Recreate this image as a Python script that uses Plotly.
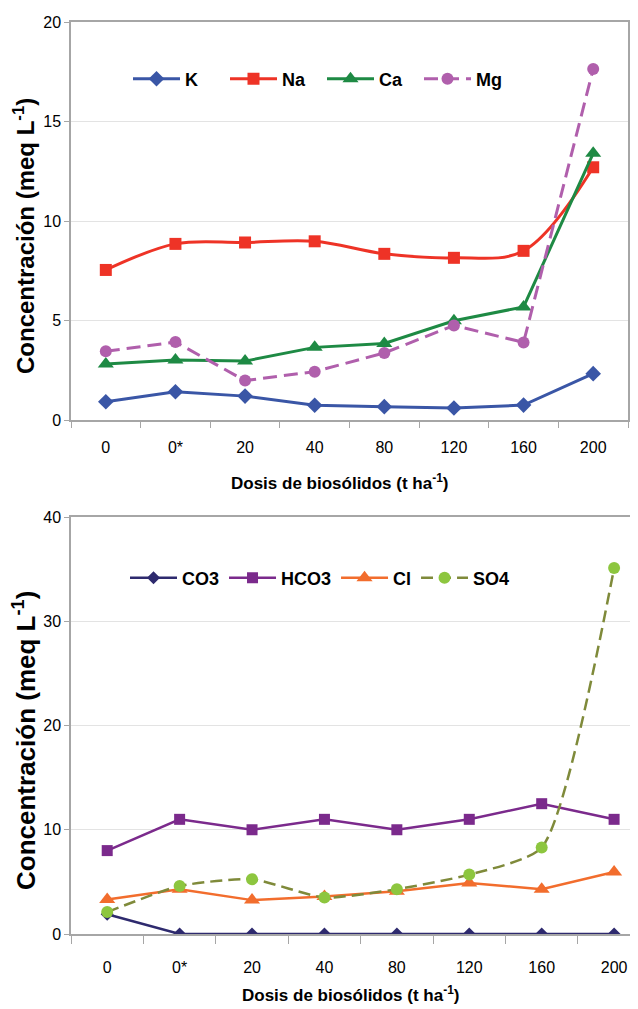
import plotly.graph_objects as go

# ---------------- data ----------------
cats = ["0", "0*", "20", "40", "80", "120", "160", "200"]

K = [0.92, 1.42, 1.20, 0.74, 0.67, 0.60, 0.75, 2.33]
Na = [7.54, 8.85, 8.92, 8.98, 8.35, 8.15, 8.50, 12.70]
Ca = [2.81, 3.02, 2.96, 3.65, 3.85, 4.99, 5.68, 13.40]
Mg = [3.45, 3.92, 1.98, 2.43, 3.37, 4.75, 3.90, 17.64]

CO3 = [1.90, 0, 0, 0, 0, 0, 0, 0]
HCO3 = [8.0, 11.0, 10.0, 11.0, 10.0, 11.0, 12.5, 11.0]
Cl = [3.30, 4.30, 3.25, 3.60, 4.10, 4.90, 4.30, 5.95]
SO4 = [2.10, 4.60, 5.25, 3.50, 4.30, 5.70, 8.30, 35.10]

top_yticks = [0, 5, 10, 15, 20]
bot_yticks = [0, 10, 20, 30, 40]

# ---------------- layout constants ----------------
# the page body has an 8px margin, so the figure is drawn 8px in from the
# top-left corner of the window
OFF = 8
W, H = 638 - OFF, 1009 - OFF
ML, MR, MT, MB = 71 - OFF, 0, 22 - OFF, 75
PW, PH = W - ML - MR, H - MT - MB


def px_x(p):
    return (p - 71) / PW


def px_y(p):
    return (934 - p) / PH


FONT = "Liberation Sans, Arial"
AXC = "#a6a6a6"
GRID = "#e3e3e3"

fig = go.Figure()


def add(name, y, color, symbol, size, xa, ya, legend, dash="solid",
        shape="linear", mcolor=None, width=3, smoothing=1.0):
    fig.add_trace(go.Scatter(
        x=cats, y=y, name=name, mode="lines+markers",
        xaxis=xa, yaxis=ya, legend=legend,
        line=dict(color=color, width=width, dash=dash, shape=shape,
                  smoothing=smoothing),
        marker=dict(symbol=symbol, size=size, color=mcolor or color,
                    line=dict(width=0)),
    ))


add("K", K, "#3a56a6", "diamond", 12, "x", "y", "legend")
add("Na", Na, "#ee3326", "square", 12, "x", "y", "legend", shape="spline")
add("Ca", Ca, "#1e8a44", "triangle-up", 14, "x", "y", "legend")
add("Mg", Mg, "#b05fac", "circle", 12, "x", "y", "legend", dash="14px,7px")

add("CO3", CO3, "#2e2a6e", "diamond", 10, "x2", "y2", "legend2", width=2.5)
add("HCO3", HCO3, "#7b2a8c", "square", 11, "x2", "y2", "legend2", width=2.5)
add("Cl", Cl, "#f26d2d", "triangle-up", 14, "x2", "y2", "legend2", width=2.5)
add("SO4", SO4, "#7f8a3a", "circle", 12, "x2", "y2", "legend2",
    dash="12px,6px", shape="spline", mcolor="#8dc63f", width=2.5,
    smoothing=0.6)

tickfont = dict(family=FONT, size=16, color="#000000")

xcommon = dict(type="category", categoryorder="array", categoryarray=cats,
               showgrid=False, showline=True, linecolor=AXC, linewidth=1.5,
               ticks="outside", tickson="boundaries", tickcolor=AXC,
               tickfont=tickfont, zeroline=False)
ycommon = dict(showgrid=True, gridcolor=GRID, gridwidth=1, showline=True,
               linecolor=AXC, linewidth=1.5, ticks="outside", ticklen=5,
               tickcolor=AXC, tickfont=tickfont, zeroline=False)

legfont = dict(family=FONT, size=18, color="#000000", weight="bold")

fig.update_layout(
    width=W, height=H,
    margin=dict(l=ML, r=MR, t=MT, b=MB),
    paper_bgcolor="white", plot_bgcolor="white",
    showlegend=True,
    xaxis=dict(xcommon, domain=[0, px_x(628)], anchor="y", range=[-0.5, 7.5],
               mirror=True, ticklen=6, ticklabelstandoff=12),
    yaxis=dict(ycommon, domain=[px_y(420), 1], anchor="x", range=[0, 20],
               tickvals=top_yticks, mirror=True),
    xaxis2=dict(xcommon, domain=[0, 1], anchor="y2", range=[-0.5, 7.33],
                mirror=True, ticklen=8, ticklabelstandoff=18),
    yaxis2=dict(ycommon, domain=[0, px_y(517)], anchor="x2", range=[0, 40],
                tickvals=bot_yticks),
    legend=dict(orientation="h", x=px_x(128), y=px_y(79), xanchor="left",
                yanchor="middle", bgcolor="rgba(0,0,0,0)", itemwidth=47,
                entrywidth=35, entrywidthmode="pixels",
                font=legfont, traceorder="normal"),
    legend2=dict(orientation="h", x=px_x(125), y=px_y(578), xanchor="left",
                 yanchor="middle", bgcolor="rgba(0,0,0,0)", itemwidth=47,
                 font=legfont, traceorder="normal"),
)

title_x = "<b>Dosis de biosólidos (t ha<sup>-1</sup>)</b>"
title_y = "<b>Concentración (meq L<sup>-1</sup>)</b>"

fig.add_annotation(text=title_x, xref="paper", yref="paper",
                   x=px_x(339), y=px_y(482), xanchor="center", yanchor="middle",
                   showarrow=False, font=dict(family=FONT, size=17, color="#000"))
fig.add_annotation(text=title_x, xref="paper", yref="paper",
                   x=px_x(350), y=px_y(994), xanchor="center", yanchor="middle",
                   showarrow=False, font=dict(family=FONT, size=17, color="#000"))
fig.add_annotation(text=title_y, xref="paper", yref="paper", textangle=-90,
                   x=px_x(24), y=px_y(236), xanchor="center", yanchor="middle",
                   showarrow=False, font=dict(family=FONT, size=24, color="#000"))
fig.add_annotation(text=title_y, xref="paper", yref="paper", textangle=-90,
                   x=px_x(24), y=px_y(741), xanchor="center", yanchor="middle",
                   showarrow=False, font=dict(family=FONT, size=26, color="#000"))

fig.write_html("out.html")
